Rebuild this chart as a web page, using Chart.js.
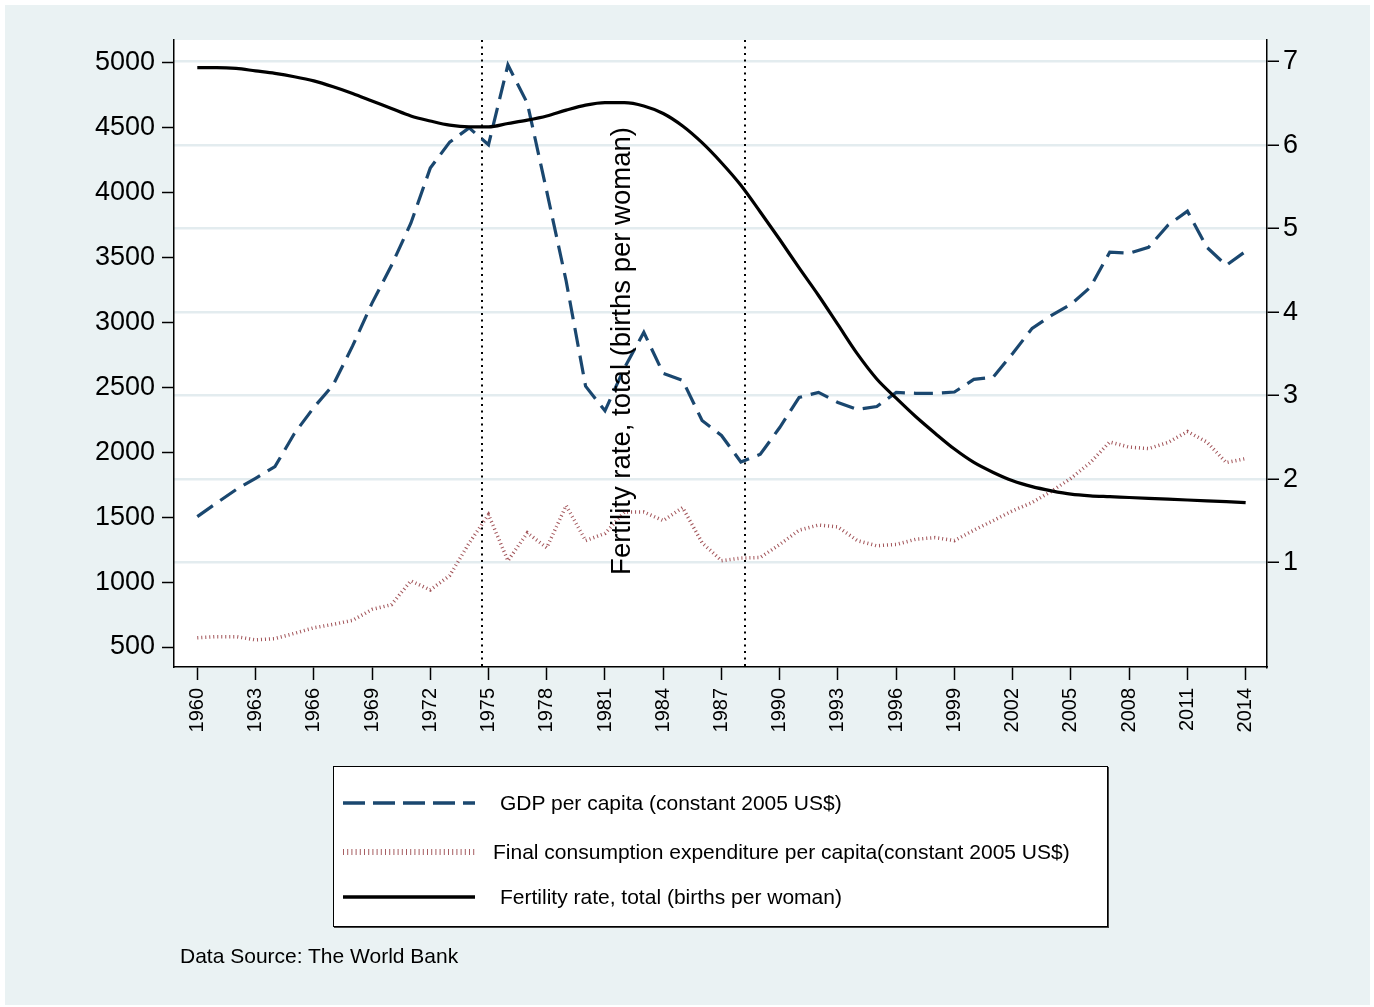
<!DOCTYPE html>
<html>
<head>
<meta charset="utf-8">
<script src="https://cdn.jsdelivr.net/npm/chart.js@4.4.0/dist/chart.umd.min.js"></script>
<style>
  html, body { margin: 0; padding: 0; background: #ffffff; width: 1374px; height: 1007px; overflow: hidden; }
  #bg { position: absolute; left: 5px; top: 5px; width: 1365px; height: 1000px; background: #eaf2f3; }
  #c { position: absolute; left: 0; top: 0; }
  .txt { position: absolute; font-family: "Liberation Sans", Arial, Helvetica, sans-serif; color: #000; white-space: nowrap; }
  #legend { position: absolute; left: 333px; top: 766px; width: 773px; height: 159px; background: #fff; border: 1.5px solid #000; box-shadow: 1px 1px 0 #444; }
  .row { position: absolute; left: 0; height: 30px; }
  .row svg { position: absolute; left: 9px; top: 0; }
  .row span { position: absolute; top: 2px; font-family: "Liberation Sans", Arial, Helvetica, sans-serif; font-size: 21px; line-height: 26px; white-space: nowrap; }
  #ytitle { position: absolute; left: 321px; top: 337px; width: 600px; height: 28px; line-height: 28px; text-align: center; font-size: 27.5px; transform: rotate(-90deg); transform-origin: 50% 50%; }
</style>
</head>
<body>
<div id="bg"></div>
<canvas id="c" width="1374" height="1007"></canvas>
<div id="ytitle" class="txt">Fertility rate, total (births per woman)</div>
<div id="legend">
  <div class="row" style="top:21px">
    <svg width="132" height="30"><line x1="0" y1="15" x2="132" y2="15" stroke="#1a476f" stroke-width="3.5" stroke-dasharray="22 8"/></svg>
    <span style="left:166px">GDP per capita (constant 2005 US$)</span>
  </div>
  <div class="row" style="top:70px">
    <svg width="132" height="30"><line x1="0" y1="15" x2="132" y2="15" stroke="#90353b" stroke-width="6" stroke-dasharray="1 3.2" opacity="0.8"/></svg>
    <span style="left:159px">Final consumption expenditure per capita(constant 2005 US$)</span>
  </div>
  <div class="row" style="top:115px">
    <svg width="132" height="30"><line x1="0" y1="15" x2="132" y2="15" stroke="#000" stroke-width="3.5"/></svg>
    <span style="left:166px">Fertility rate, total (births per woman)</span>
  </div>
</div>
<div class="txt" style="left:180px; top:943px; font-size:21px; line-height:26px;">Data Source: The World Bank</div>

<script>
const years = [1960,1961,1962,1963,1964,1965,1966,1967,1968,1969,1970,1971,1972,1973,1974,1975,1976,1977,1978,1979,
               1980,1981,1982,1983,1984,1985,1986,1987,1988,1989,1990,1991,1992,1993,1994,1995,1996,1997,1998,1999,
               2000,2001,2002,2003,2004,2005,2006,2007,2008,2009,2010,2011,2012,2013,2014];

const gdpPerCapita = [1505,1610,1713,1800,1890,2145,2345,2520,2820,3150,3440,3765,4190,4390,4500,4370,4985,4690,4010,3320,
                      2510,2320,2650,2925,2608,2554,2245,2130,1925,1985,2191,2423,2462,2384,2330,2353,2462,2455,2455,2465,
                      2562,2580,2762,2955,3055,3140,3272,3542,3534,3580,3750,3858,3580,3441,3549];

const consumptionPerCapita = [571,580,580,555,565,605,648,675,705,790,826,1010,940,1050,1300,1520,1165,1380,1265,1590,
                              1320,1375,1540,1540,1474,1574,1304,1165,1185,1190,1290,1400,1440,1425,1320,1280,1290,1330,1343,1320,
                              1400,1474,1550,1613,1700,1800,1921,2080,2040,2029,2076,2160,2080,1921,1952];

const fertilityRate = [6.93,6.93,6.92,6.89,6.86,6.82,6.77,6.70,6.62,6.53,6.44,6.35,6.29,6.24,6.22,6.22,6.26,6.30,6.35,6.42,
                       6.48,6.51,6.51,6.47,6.38,6.23,6.03,5.79,5.52,5.20,4.87,4.53,4.20,3.85,3.50,3.20,2.97,2.75,2.55,2.36,
                       2.20,2.08,1.98,1.91,1.86,1.82,1.80,1.79,1.78,1.77,1.76,1.75,1.74,1.73,1.72];

const xTickYears = [1960,1963,1966,1969,1972,1975,1978,1981,1984,1987,1990,1993,1996,1999,2002,2005,2008,2011,2014];
const leftTicks = [500,1000,1500,2000,2500,3000,3500,4000,4500,5000];
const rightTicks = [1,2,3,4,5,6,7];
const referenceYears = [1974.65, 1988.2];

const seriesNames = ['GDP per capita (constant 2005 US$)',
                     'Final consumption expenditure per capita(constant 2005 US$)',
                     'Fertility rate, total (births per woman)'];

const FONT = '"Liberation Sans", Arial, Helvetica, sans-serif';

const pts = (vals) => years.map((y, i) => ({x: y, y: vals[i]}));

const bgPlugin = {
  id: 'plotbg',
  beforeDraw(chart) {
    const a = chart.chartArea, ctx = chart.ctx;
    ctx.save();
    ctx.fillStyle = '#ffffff';
    ctx.fillRect(a.left, a.top, a.right - a.left, a.bottom - a.top);
    ctx.restore();
  }
};

const refLinePlugin = {
  id: 'reflines',
  beforeDatasetsDraw(chart) {
    const a = chart.chartArea, ctx = chart.ctx, xs = chart.scales.x;
    ctx.save();
    ctx.strokeStyle = '#000';
    ctx.lineWidth = 2;
    ctx.setLineDash([2, 4.5]);
    referenceYears.forEach(v => {
      const px = Math.round(xs.getPixelForValue(v));
      ctx.beginPath();
      ctx.moveTo(px, a.top);
      ctx.lineTo(px, a.bottom);
      ctx.stroke();
    });
    ctx.restore();
  }
};

new Chart(document.getElementById('c'), {
  type: 'line',
  data: {
    datasets: [
      { label: seriesNames[0], data: pts(gdpPerCapita), yAxisID: 'y', borderColor: '#1a476f',
        borderWidth: 3.2, borderDash: [19, 9], pointRadius: 0, tension: 0, order: 2 },
      { label: seriesNames[1], data: pts(consumptionPerCapita), yAxisID: 'y', borderColor: 'rgba(144,53,59,0.85)',
        borderWidth: 3.5, borderDash: [1, 3], pointRadius: 0, tension: 0, order: 1 },
      { label: seriesNames[2], data: pts(fertilityRate), yAxisID: 'y2', borderColor: '#000000',
        borderWidth: 3.2, pointRadius: 0, cubicInterpolationMode: 'monotone', order: 0 }
    ]
  },
  options: {
    responsive: false,
    animation: false,
    devicePixelRatio: 1,
    layout: { padding: { top: 40, left: 0, right: 0, bottom: 0 } },
    plugins: { legend: { display: false }, tooltip: { enabled: false }, title: { display: false } },
    scales: {
      x: {
        type: 'linear', position: 'bottom', min: 1958.8, max: 2015.1,
        afterBuildTicks: s => { s.ticks = xTickYears.map(v => ({ value: v })); },
        afterFit: s => { s.height = 340; },
        grid: { display: true, drawOnChartArea: false, drawTicks: true, tickLength: 13, tickColor: '#000', tickWidth: 1.5 },
        border: { display: true, color: '#000', width: 1.5 },
        ticks: { autoSkip: false, maxRotation: 90, minRotation: 90, padding: 8, color: '#000',
                 font: { family: FONT, size: 20 }, callback: v => String(v) }
      },
      y: {
        type: 'linear', position: 'left', min: 346, max: 5177,
        afterBuildTicks: s => { s.ticks = leftTicks.map(v => ({ value: v })); },
        afterFit: s => { s.width = 174; },
        grid: { display: true, drawOnChartArea: false, drawTicks: true, tickLength: 12, tickColor: '#000', tickWidth: 1.5 },
        border: { display: true, color: '#000', width: 1.5 },
        ticks: { padding: 7, color: '#000', font: { family: FONT, size: 27 }, callback: v => String(v) }
      },
      y2: {
        type: 'linear', position: 'right', min: -0.25, max: 7.26,
        afterBuildTicks: s => { s.ticks = rightTicks.map(v => ({ value: v })); },
        afterFit: s => { s.width = 107; },
        grid: { display: true, drawOnChartArea: true, drawTicks: true, tickLength: 12, color: '#e3ecef', lineWidth: 2.5,
                tickColor: '#000', tickWidth: 1.5 },
        border: { display: true, color: '#000', width: 1.5 },
        ticks: { padding: 4, color: '#000', font: { family: FONT, size: 27 }, callback: v => String(v) }
      }
    }
  },
  plugins: [bgPlugin, refLinePlugin]
});
</script>
</body>
</html>
